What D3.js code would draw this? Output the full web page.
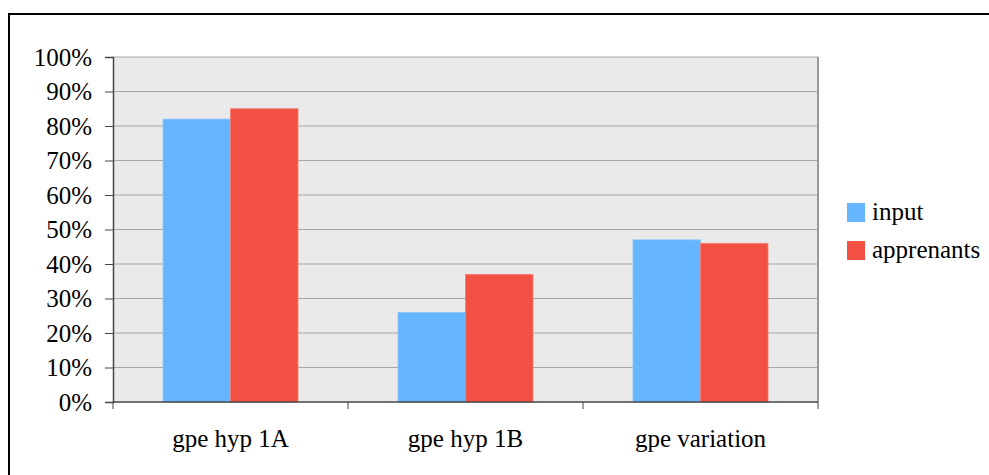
<!DOCTYPE html>
<html><head><meta charset="utf-8">
<script src="https://cdnjs.cloudflare.com/ajax/libs/d3/7.8.5/d3.min.js"></script>
<style>body{margin:0;background:#fff;} svg{display:block;} text{font-family:"Liberation Serif","Times New Roman",serif;}</style>
</head><body><svg id="c" width="989" height="475"></svg>
<script>
const categories = ["gpe hyp 1A", "gpe hyp 1B", "gpe variation"];
const seriesNames = ["input", "apprenants"];
const inputValues = [0.82, 0.26, 0.47];
const apprenantsValues = [0.85, 0.37, 0.46];
const yTicks = [0,0.1,0.2,0.3,0.4,0.5,0.6,0.7,0.8,0.9,1.0];
const colors = ["#66B5FF", "#F25042"];

const FS = 25;
const svg = d3.select("#c");
const L=113, R=818, T=57, B=402;
svg.append("rect").attr("x",9).attr("y",14).attr("width",1000).attr("height",500)
  .attr("fill","none").attr("stroke","#000").attr("stroke-width",2);

const x = d3.scaleBand().domain(categories).range([L,R]).paddingInner(0).paddingOuter(0);
const y = d3.scaleLinear().domain([0,1]).range([B,T]);
const inner = d3.scaleBand().domain(seriesNames).range([50, x.bandwidth()-50]);

svg.append("rect").attr("x",L).attr("y",T).attr("width",R-L).attr("height",B-T).attr("fill","#EAEAEA");
svg.append("g").selectAll("line").data(yTicks.slice(1)).join("line")
  .attr("x1",L).attr("x2",R).attr("y1",d=>y(d)).attr("y2",d=>y(d))
  .attr("stroke","#A6A6A6").attr("stroke-width",1.2);
svg.append("line").attr("x1",R).attr("x2",R).attr("y1",T).attr("y2",B).attr("stroke","#999").attr("stroke-width",2);

const data = categories.map((c,i)=>[{c,s:seriesNames[0],v:inputValues[i]},{c,s:seriesNames[1],v:apprenantsValues[i]}]).flat();
svg.append("g").selectAll("rect").data(data).join("rect")
  .attr("x",d=>x(d.c)+inner(d.s)).attr("width",inner.bandwidth())
  .attr("y",d=>y(d.v)).attr("height",d=>B-y(d.v))
  .attr("fill",d=>colors[seriesNames.indexOf(d.s)])
  .attr("stroke",(d)=>seriesNames.indexOf(d.s)===0?"#8CC6FF":"#F47E74").attr("stroke-width",0.8);

const yAxis = d3.axisLeft(y).tickValues(yTicks).tickFormat(d=>Math.round(d*100)+"%").tickSize(8).tickPadding(13);
const gy = svg.append("g").attr("transform",`translate(${L},0)`).call(yAxis);
gy.attr("font-family",null);
gy.select(".domain").attr("stroke","#444").attr("stroke-width",1.5);
gy.selectAll(".tick line").attr("stroke","#444");
gy.selectAll("text").attr("font-size",FS).attr("fill","#000");

const gx = svg.append("g").attr("transform",`translate(0,${B})`);
gx.append("line").attr("x1",L).attr("x2",R).attr("y1",0).attr("y2",0).attr("stroke","#444").attr("stroke-width",1.5);
gx.selectAll("line.t").data([...categories.map(c=>x(c)), R]).join("line").attr("class","t")
  .attr("x1",d=>d).attr("x2",d=>d).attr("y1",0).attr("y2",7).attr("stroke","#444");
gx.selectAll("text").data(categories).join("text")
  .attr("x",d=>x(d)+x.bandwidth()/2).attr("y",45).attr("text-anchor","middle")
  .attr("font-size",FS).attr("fill","#000").text(d=>d);

const lg = svg.append("g").selectAll("g").data(seriesNames).join("g")
  .attr("transform",(d,i)=>`translate(847,${203+i*38})`);
lg.append("rect").attr("width",18).attr("height",19).attr("fill",(d,i)=>colors[i]);
lg.append("text").attr("x",25).attr("y",17).attr("font-size",FS).attr("fill","#000").text(d=>d);
</script></body></html>
